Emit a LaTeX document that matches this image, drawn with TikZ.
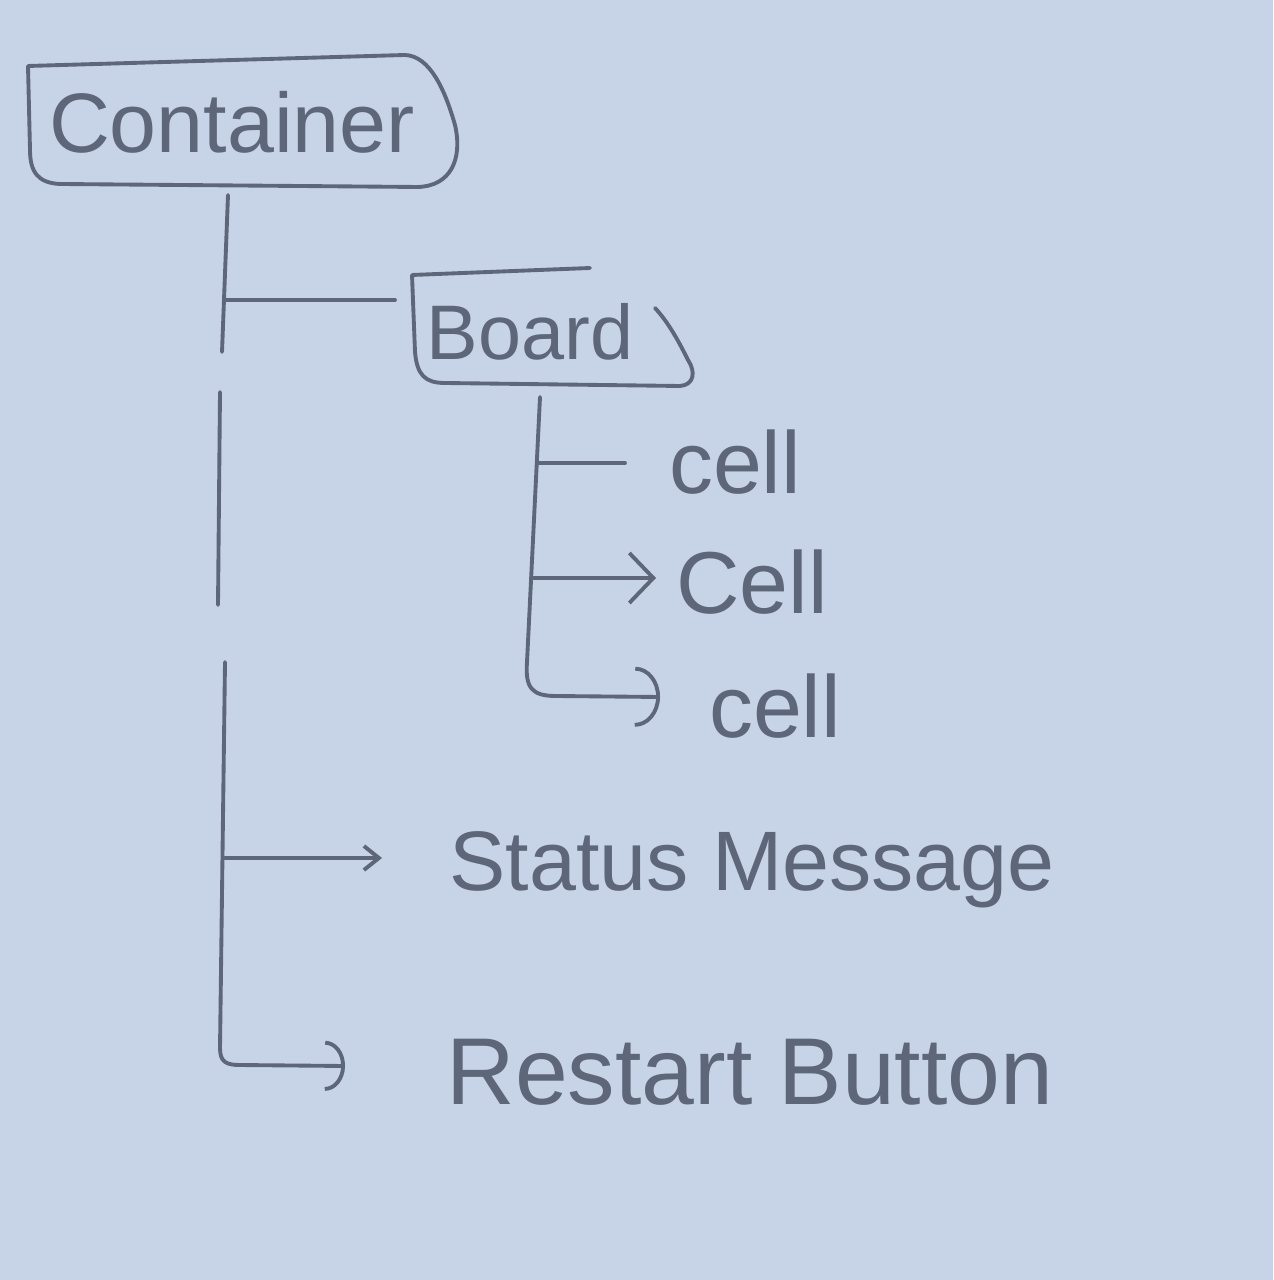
\documentclass[tikz,border=0pt]{standalone}
\usepackage{fontspec}
\setmainfont{Liberation Sans}
\usetikzlibrary{arrows.meta}
\definecolor{paper}{HTML}{C7D3E6}
\definecolor{pencil}{HTML}{5E6679}
\begin{document}
\begin{tikzpicture}[x=0.01cm,y=-0.01cm,
  pen/.style={draw=pencil,line width=1.1pt,line cap=round,line join=round},
  lbl/.style={text=pencil,inner sep=0pt},
  bigbarb/.style={-{Straight Barb[length=2.4mm,width=5mm,line width=1.1pt]}},
  smallbarb/.style={-{Straight Barb[length=1.5mm,width=2.4mm,line width=1.1pt]}},
  bigarc/.style={-{Arc Barb[length=2.5mm,width=6mm,line width=1.1pt]}},
  midarc/.style={-{Arc Barb[length=2mm,width=5mm,line width=1.1pt]}}]
\fill[paper] (0,0) rectangle (1273,1280);
\useasboundingbox (0,0) rectangle (1273,1280);

% labels
\node[lbl,font=\fontsize{24}{28}\selectfont] (cont) at (232,122) {Container};
\node[lbl,font=\fontsize{22}{26}\selectfont] (board) at (530,332) {Board};
\node[lbl,font=\fontsize{25}{30}\selectfont] (cell1) at (735,462) {cell};
\node[lbl,font=\fontsize{25}{30}\selectfont] (cell2) at (752,582) {Cell};
\node[lbl,font=\fontsize{25}{30}\selectfont] (cell3) at (775,706) {cell};
\node[lbl,font=\fontsize{24}{28}\selectfont] (status) at (752,870) {Status Message};
\node[lbl,font=\fontsize{27}{30}\selectfont] (restart) at (750,1072) {Restart Button};

% boxes (hand-drawn outlines)
\draw[pen] (28,66) -- (405,55) .. controls (430,56) and (445,90) .. (455,125)
  .. controls (463,160) and (450,186) .. (418,187)
  -- (60,184) .. controls (38,183) and (30,172) .. (30,150) -- cycle;
\draw[pen] (590,268) -- (412,275) -- (415,352) .. controls (417,375) and (425,383) .. (445,383)
  -- (680,386) .. controls (694,385) and (696,372) .. (688,360) .. controls (678,340) and (668,322) .. (655,308);

% junction coordinates
\coordinate (ta) at (228,195);
\coordinate (tb) at (222,352);
\coordinate (tc) at (220,392);
\coordinate (td) at (218,605);
\coordinate (te) at (225,662);
\coordinate (jb) at (224,300);
\coordinate (boardin) at (395,300);
\coordinate (js) at (225,858);
\coordinate (statusin) at (382,858);
\coordinate (restartin) at (345,1066);
\coordinate (ba) at (540,397);
\coordinate (j1) at (538,463);
\coordinate (cell1in) at (625,463);
\coordinate (j2) at (534,578);
\coordinate (cell2in) at (656,578);
\coordinate (cell3in) at (660,697);

% container trunk (drawn in three strokes)
\draw[pen] (ta) -- (tb);
\draw[pen] (tc) -- (td);
\draw[pen,midarc] (te) -- (220,1048) .. controls (220,1062) and (226,1065) .. (240,1065) -- (restartin);
\draw[pen] (jb) -- (boardin);
\draw[pen,smallbarb] (js) -- (statusin);

% board trunk
\draw[pen,bigarc] (ba) -- (527,662) .. controls (525,688) and (532,696) .. (556,696) -- (cell3in);
\draw[pen] (j1) -- (cell1in);
\draw[pen,bigbarb] (j2) -- (cell2in);
\end{tikzpicture}
\end{document}
